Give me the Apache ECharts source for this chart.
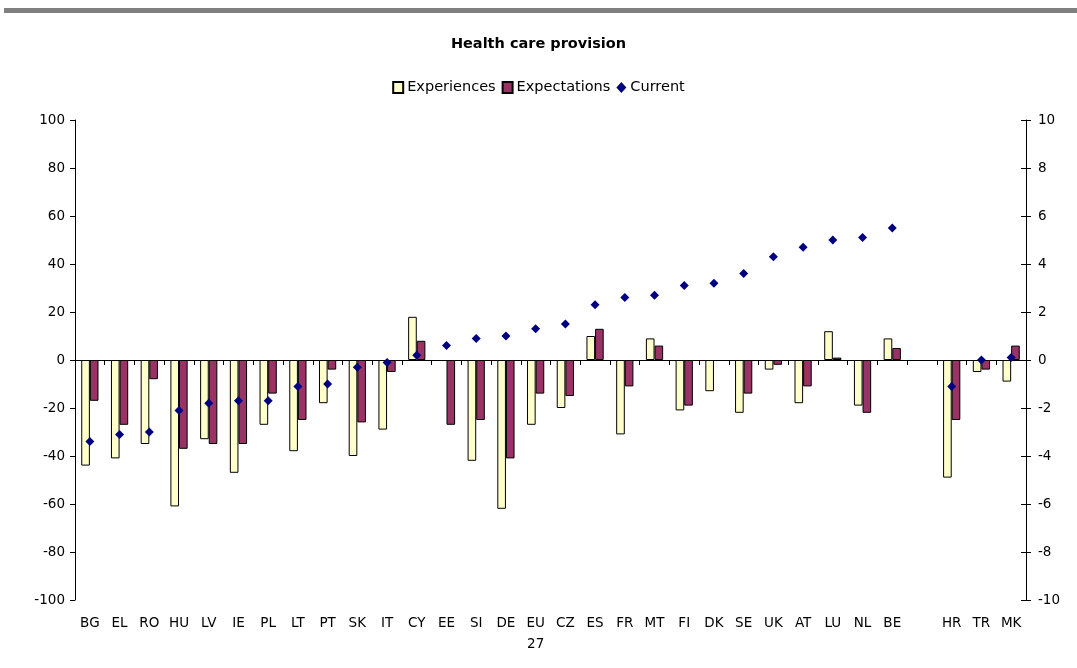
<!DOCTYPE html>
<html>
<head>
<meta charset="utf-8">
<script src="https://cdn.jsdelivr.net/npm/echarts@6/dist/echarts.min.js"></script>
<style>
  html, body { margin: 0; padding: 0; background: #fff; }
  #chart { width: 1077px; height: 668px; }
</style>
</head>
<body>
<div id="chart"></div>
<script>
  // countries (blank slot before the candidate countries)
  var countries = ['BG', 'EL', 'RO', 'HU', 'LV', 'IE', 'PL', 'LT', 'PT', 'SK', 'IT', 'CY', 'EE', 'SI', 'DE', 'EU\n27',
    'CZ', 'ES', 'FR', 'MT', 'FI', 'DK', 'SE', 'UK', 'AT', 'LU', 'NL', 'BE', '', 'HR', 'TR', 'MK'];
  var experiences = [-44, -41, -35, -61, -33, -47, -27, -38, -18, -40, -29, 18, null, -42, -62, -27,
    -20, 10, -31, 9, -21, -13, -22, -4, -18, 12, -19, 9, null, -49, -5, -9];
  var expectations = [-17, -27, -8, -37, -35, -35, -14, -25, -4, -26, -5, 8, -27, -25, -41, -14,
    -15, 13, -11, 6, -19, null, -14, -2, -11, 1, -22, 5, null, -25, -4, 6];
  var current = [-3.4, -3.1, -3.0, -2.1, -1.8, -1.7, -1.7, -1.1, -1.0, -0.3, -0.1, 0.2, 0.6, 0.9, 1.0, 1.3,
    1.5, 2.3, 2.6, 2.7, 3.1, 3.2, 3.6, 4.3, 4.7, 5.0, 5.1, 5.5, null, -1.1, 0.0, 0.1];

  var font = 'DejaVu Sans, Verdana, sans-serif';
  var myChart = echarts.init(document.getElementById('chart'));

  myChart.setOption({
    animation: false,
    textStyle: { fontFamily: font, color: '#000' },
    title: {
      text: 'Health care provision',
      left: 'center',
      top: 32,
      textStyle: { fontSize: 14.5, fontWeight: 'bold', color: '#000', fontFamily: font }
    },
    legend: {
      top: 75,
      left: 'center',
      itemGap: 6,
      itemWidth: 10,
      itemHeight: 11,
      textStyle: { fontSize: 14.5, color: '#000', fontFamily: font, padding: [0, 0, 0, -1] },
      data: [
        { name: 'Experiences', icon: 'rect' },
        { name: 'Expectations', icon: 'rect' },
        { name: 'Current', icon: 'diamond', itemStyle: { color: '#000080', opacity: 1 } }
      ]
    },
    graphic: [{
      type: 'rect',
      shape: { x: 4, y: 8, width: 1073, height: 5 },
      style: { fill: '#808080' }
    }],
    grid: { left: 75, right: 51, top: 120, bottom: 68 },
    xAxis: [{
      // labels along the bottom
      type: 'category',
      data: countries,
      position: 'bottom',
      axisLine: { show: false, onZero: false },
      axisTick: { show: false },
      axisLabel: { interval: 0, fontSize: 13.5, color: '#000', margin: 13, lineHeight: 21 }
    }, {
      // line and ticks at zero
      type: 'category',
      data: countries,
      position: 'bottom',
      axisLine: { onZero: true, lineStyle: { color: '#000', width: 1 } },
      axisTick: { show: true, interval: 0, length: 5, lineStyle: { color: '#000' } },
      axisLabel: { show: false }
    }],
    yAxis: [{
      type: 'value',
      min: -100,
      max: 100,
      interval: 20,
      axisLine: { show: true, lineStyle: { color: '#000' } },
      axisTick: { show: true, length: 5, lineStyle: { color: '#000' } },
      axisLabel: { fontSize: 13.5, color: '#000', margin: 10 },
      splitLine: { show: false }
    }, {
      type: 'value',
      min: -10,
      max: 10,
      interval: 2,
      position: 'right',
      axisLine: { show: true, lineStyle: { color: '#000' } },
      axisTick: { show: true, length: 5, lineStyle: { color: '#000' } },
      axisLabel: { fontSize: 13.5, color: '#000', margin: 12 },
      splitLine: { show: false }
    }, {
      // inner half of the crossing ticks on the right
      type: 'value',
      min: -10,
      max: 10,
      interval: 2,
      position: 'right',
      axisLine: { show: false },
      axisTick: { show: true, inside: true, length: 5, lineStyle: { color: '#000' } },
      axisLabel: { show: false },
      splitLine: { show: false }
    }],
    series: [{
      name: 'Experiences',
      type: 'bar',
      data: experiences,
      barGap: '0%',
      barCategoryGap: '42%',
      itemStyle: { color: '#FFFFCC', borderColor: '#000', borderWidth: 1 }
    }, {
      name: 'Expectations',
      type: 'bar',
      data: expectations,
      itemStyle: { color: '#993366', borderColor: '#000', borderWidth: 1 }
    }, {
      name: 'Current',
      type: 'scatter',
      yAxisIndex: 1,
      data: current,
      symbol: 'diamond',
      symbolSize: 9,
      z: 5,
      itemStyle: { color: '#000080', opacity: 1 }
    }]
  });
</script>
</body>
</html>
